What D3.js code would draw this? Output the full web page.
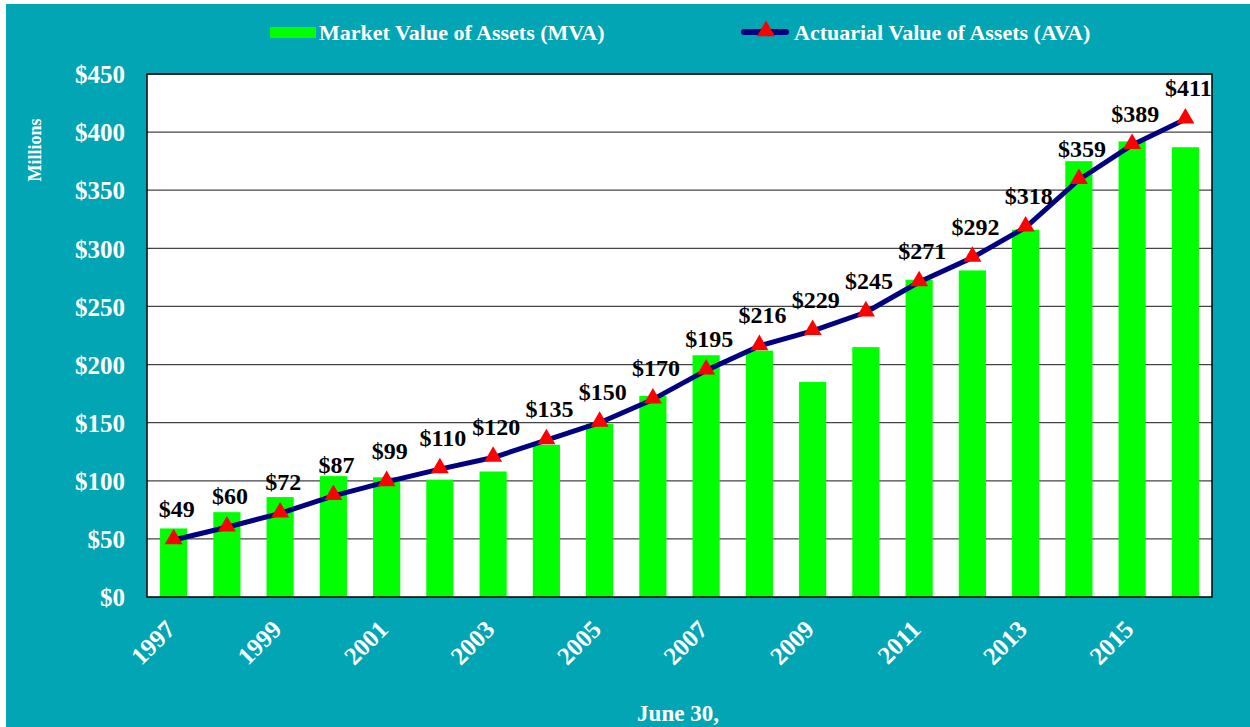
<!DOCTYPE html>
<html>
<head>
  <title>Assets</title>
  <script src="https://cdn.jsdelivr.net/npm/d3@7/dist/d3.min.js"></script>
  <style>
    body { margin: 0; background: #fff; }
    text { font-family: "Liberation Serif", "Times New Roman", serif; font-weight: bold; }
  </style>
</head>
<body>
  <svg width="1250" height="727" id="mainsvg"></svg>
  <script>
    const years = [1997, 1998, 1999, 2000, 2001, 2002, 2003, 2004, 2005, 2006,
      2007, 2008, 2009, 2010, 2011, 2012, 2013, 2014, 2015, 2016];
    const mva = [59, 73, 86, 104, 103, 101, 108, 131, 149, 173,
      208, 212, 185, 215, 273, 281, 316, 375, 392, 387];
    const ava = [49, 60, 72, 87, 99, 110, 120, 135, 150, 170,
      195, 216, 229, 245, 271, 292, 318, 359, 389, 411];
    const yTicks = [0, 50, 100, 150, 200, 250, 300, 350, 400, 450];

    const svg = d3.select('#mainsvg');
    const teal = '#01a5b4';
    svg.append('rect').attr('x', 6).attr('y', 4).attr('width', 1244).attr('height', 723).attr('fill', teal);

    const x = d3.scaleBand().domain(years).range([147, 1212]).paddingInner(0.49).paddingOuter(0.245);
    const y = d3.scaleLinear().domain([0, 450]).range([597, 74]);

    svg.append('rect').attr('x', 147).attr('y', 74).attr('width', 1212 - 147).attr('height', 597 - 74)
      .attr('fill', '#fff');

    // grid
    svg.append('g').selectAll('line').data(yTicks.slice(1)).join('line')
      .attr('x1', 147).attr('x2', 1212)
      .attr('y1', d => y(d)).attr('y2', d => y(d))
      .attr('stroke', '#444').attr('stroke-width', 1.2);

    // bars
    svg.append('g').selectAll('rect').data(years).join('rect')
      .attr('x', d => x(d)).attr('width', x.bandwidth())
      .attr('y', (d, i) => y(mva[i])).attr('height', (d, i) => y(0) - y(mva[i]))
      .attr('fill', '#00ff00');

    svg.append('rect').attr('x', 147).attr('y', 74).attr('width', 1212 - 147).attr('height', 597 - 74)
      .attr('fill', 'none').attr('stroke', '#000').attr('stroke-width', 1.5);

    // line
    const cx = d => x(d) + x.bandwidth() / 2;
    const line = d3.line().x((d, i) => cx(years[i])).y(d => y(d));
    svg.append('path').datum(ava).attr('d', line)
      .attr('fill', 'none').attr('stroke', '#000080').attr('stroke-width', 5).attr('stroke-linejoin', 'round');

    const tri = d3.symbol().type(d3.symbolTriangle).size(140);
    svg.append('g').selectAll('path').data(ava).join('path')
      .attr('d', tri)
      .attr('transform', (d, i) => `translate(${cx(years[i])},${y(d) - 1})`)
      .attr('fill', '#ff0000');

    svg.append('g').selectAll('text').data(ava).join('text')
      .attr('x', (d, i) => cx(years[i]) + 3)
      .attr('y', (d, i) => y(d) - 23)
      .attr('text-anchor', 'middle')
      .attr('font-size', 24)
      .attr('fill', '#000')
      .text(d => '$' + d);

    // y axis
    const yAxis = d3.axisLeft(y).tickValues(yTicks).tickSize(0).tickPadding(22).tickFormat(d => '$' + d);
    svg.append('g').attr('transform', 'translate(147,0)').call(yAxis)
      .call(g => g.select('.domain').remove())
      .selectAll('text')
      .attr('fill', '#fff').attr('font-size', 25).attr('dy', '0.35em')
      .style('font-family', '"Liberation Serif", serif').style('font-weight', 'bold');

    // x axis
    const xAxis = d3.axisBottom(x).tickValues(years.filter((d, i) => i % 2 === 0)).tickSize(0).tickFormat(d3.format('d'));
    svg.append('g').attr('transform', 'translate(0,597)').call(xAxis)
      .call(g => g.select('.domain').remove())
      .selectAll('text')
      .attr('fill', '#fff').attr('font-size', 25)
      .attr('text-anchor', 'end')
      .attr('dy', 0).attr('y', 0)
      .attr('transform', 'translate(3,34) rotate(-45)')
      .style('font-family', '"Liberation Serif", serif').style('font-weight', 'bold');

    // axis titles
    svg.append('text').attr('transform', 'translate(41,150) rotate(-90)')
      .attr('text-anchor', 'middle').attr('font-size', 18).attr('fill', '#fff').text('Millions');
    svg.append('text').attr('x', 678).attr('y', 721)
      .attr('text-anchor', 'middle').attr('font-size', 23).attr('fill', '#fff').text('June 30,');

    // legend
    svg.append('rect').attr('x', 270).attr('y', 27).attr('width', 46).attr('height', 11).attr('fill', '#00ff00');
    svg.append('text').attr('x', 319).attr('y', 40).attr('font-size', 22).attr('fill', '#fff')
      .text('Market Value of Assets (MVA)');
    svg.append('line').attr('x1', 744).attr('x2', 786).attr('y1', 32).attr('y2', 32)
      .attr('stroke', '#000080').attr('stroke-width', 6).attr('stroke-linecap', 'round');
    svg.append('path').attr('d', tri).attr('transform', 'translate(766,31)').attr('fill', '#ff0000');
    svg.append('text').attr('x', 794).attr('y', 40).attr('font-size', 22).attr('fill', '#fff')
      .text('Actuarial Value of Assets (AVA)');
  </script>
</body>
</html>
